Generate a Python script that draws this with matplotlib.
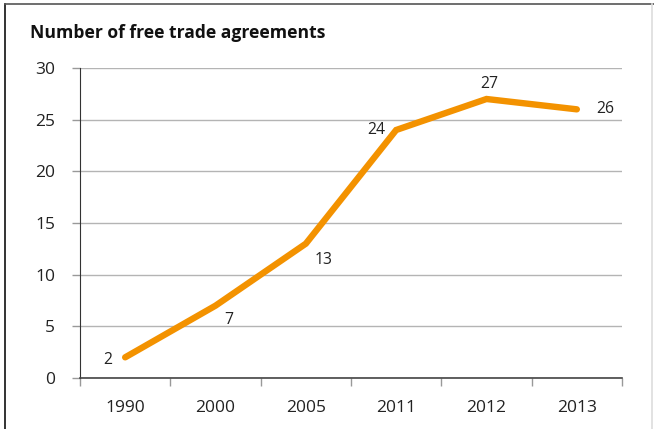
import matplotlib
matplotlib.use('Agg')
import matplotlib.pyplot as plt
from matplotlib.lines import Line2D

# Dati del grafico
years = ['1990', '2000', '2005', '2011', '2012', '2013']
agreements = [2, 7, 13, 24, 27, 26]
yticks = [0, 5, 10, 15, 20, 25, 30]

plt.rcParams['font.family'] = ['Open Sans', 'DejaVu Sans']

fig = plt.figure(figsize=(6.54, 4.29), dpi=100)
ax = fig.add_axes([80 / 654, 51 / 429, 542 / 654, 310 / 429])

x = list(range(len(years)))
ax.plot(x, agreements, color='#f39200', linewidth=4.6, solid_capstyle='round',
        solid_joinstyle='miter', zorder=3)

# Etichette dei valori, posizionate come nell'originale
offsets = [(-9, -2, 'right', 'center'), (6, -10, 'left', 'center'),
           (6, -12, 'left', 'center'), (-8, 0, 'right', 'center'),
           (2, 5, 'center', 'bottom'), (14, 0, 'left', 'center')]
for xi, v, (dx, dy, ha, va) in zip(x, agreements, offsets):
    ax.annotate(str(v), (xi, v), xytext=(dx, dy), textcoords='offset points',
                ha=ha, va=va, fontsize=11.3, color='#222222')

ax.set_xlim(-0.5, len(years) - 0.5)
ax.set_ylim(0, 30)
ax.set_yticks(yticks)
ax.set_yticklabels([str(t) for t in yticks], fontsize=12.5, color='#222222')
ax.yaxis.grid(True, color='#b4b4b4', linewidth=1.0)
ax.set_axisbelow(True)

# Tacche sull'asse x tra le categorie
ax.set_xticks([i - 0.5 for i in range(len(years) + 1)])
ax.set_xticklabels([])
ax.set_xticks(x, minor=True)
ax.set_xticklabels(years, minor=True, fontsize=12.5, color='#222222')
ax.tick_params(axis='x', which='major', length=6, color='#999999', width=1)
ax.tick_params(axis='x', which='minor', length=0, pad=16)
ax.tick_params(axis='y', length=6, color='#999999', width=1, pad=12)

for s in ['top', 'right']:
    ax.spines[s].set_visible(False)
ax.spines['left'].set_color('#333333')
ax.spines['bottom'].set_color('#444444')
ax.spines['bottom'].set_linewidth(1.2)

fig.text(30 / 654, 1 - 33 / 429, 'Number of free trade agreements', fontsize=12.6,
         fontweight='bold', ha='left', va='center', color='#111111')

# Cornice della figura
fig.add_artist(Line2D([5 / 654, 5 / 654], [0, 1 - 4 / 429], color='#111111', linewidth=1.2))
fig.add_artist(Line2D([5 / 654, 1], [1 - 4 / 429, 1 - 4 / 429], color='#555555', linewidth=1.2))
fig.add_artist(Line2D([652 / 654, 652 / 654], [0, 1 - 4 / 429], color='#dddddd', linewidth=1.2))

fig.savefig('out.png', dpi=100)
